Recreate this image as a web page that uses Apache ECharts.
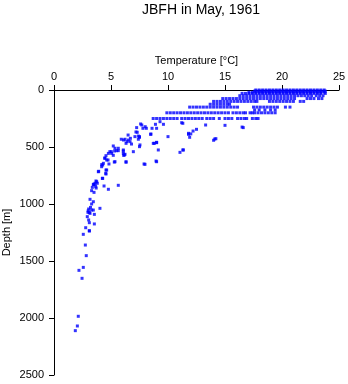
<!DOCTYPE html>
<html>
<head>
<meta charset="utf-8">
<script src="https://cdn.jsdelivr.net/npm/echarts@6/dist/echarts.min.js"></script>
<style>html,body{margin:0;padding:0;background:#fff}#c{width:348px;height:384px}</style>
</head>
<body>
<div id="c"></div>
<script>
// Temperatures (°C) observed at standard depths (m)
const band0 = [17.7,18.0,18.3,18.6,18.9,19.2,19.5,19.8,20.1,20.4,20.7,21.0,21.3,21.6,21.9,22.2,22.5,22.8,23.1,23.4,23.7];
const band10 = [17.6,17.9,18.2,18.5,18.8,19.1,19.4,19.7,20.0,20.3,20.6,20.9,21.2,21.5,21.8,22.1,22.4,22.7,23.0,23.3,23.6,23.8];
const band20 = [17.1,17.4,17.7,18.0,18.3,18.6,18.9,19.2,19.5,19.8,20.1,20.4,20.7,21.0,21.3,21.6,21.9,22.2,22.5,22.8,23.1,23.4,23.7];
const band30 = [16.5,16.8,17.1,17.4,17.7,18.0,18.3,18.6,18.9,19.2,19.5,19.8,20.1,20.4,20.7,21.0,21.3,21.6,21.9,22.2,22.5,22.8,23.1,23.4,23.8];
const band50 = [16.3,16.6,16.9,17.2,17.5,17.8,18.1,18.4,18.7,19.0,19.3,19.6,19.9,20.2,20.5,20.8,21.1,21.4,21.7,22.0,22.3,22.6,23.0,23.3,23.6];
const band75 = [14.8,15.1,15.4,15.7,16.0,16.3,16.6,16.9,17.2,17.5,17.8,18.1,18.4,18.7,19.0,19.3,19.6,19.9,20.2,20.5,20.8,21.1,22.2,22.5,22.8,23.2,23.5];
const band100 = [14.0,14.3,14.6,14.9,15.2,15.5,15.8,16.1,16.4,16.7,17.0,17.3,17.6,17.8,18.9,19.2,19.5,19.8,20.1,20.4,20.7,21.0,21.6,21.9];
const band125 = [13.7,14.0,14.3,14.6,14.9,15.2,15.4];
const band150 = [11.9,12.2,12.5,12.8,13.1,13.4,13.7,14.0,14.3,14.6,14.9,15.2,15.5,15.8,16.1,17.5,17.8,18.1,18.4,18.7,19.0,19.3,19.6,20.3,20.7];
const band175 = [17.6,18.0,18.5,19.0,19.4];
const band200 = [9.9,10.2,10.5,10.8,11.1,11.4,11.7,12.0,12.3,12.6,12.9,13.2,13.5,13.8,14.1,14.4,14.7,15.0,15.3,15.7,16.0,16.3,16.6,16.8,17.2,17.4,17.6,17.9,18.2,18.5,18.8,19.1,19.4];
const band250 = [8.7,9.0,9.3,9.6,9.9,10.2,10.5,10.8,11.2,11.5,11.8,12.1,12.4,12.7,13.0,13.4,13.7,14.0,14.5,15.0,15.3,15.6,16.1,16.4,16.7,16.9,17.4,17.7,17.9];
const bandDepths = [0,10,20,30,50,75,100,125,150,175,200,250];
const bands = [band0,band10,band20,band30,band50,band75,band100,band125,band150,band175,band200,band250];

// Individual observations [temperature, depth]
const profilePoints = [
  [11.3,292],[11.2,287],[13.3,307],[15.0,310],[16.5,325],[16.6,330],[12.2,360],[12.5,345],
  [11.8,380],[11.9,415],[12.0,385],[14.1,430],[14.0,441],[14.2,427],[11.05,547],[11.35,526],
  [10.0,409],[9.15,526],[8.95,623],[9.0,462],[8.8,468],[8.5,386],[7.6,298],[7.8,336],
  [8.1,336],[7.25,330],[7.3,371],[7.1,409],[7.5,409],[7.4,432],[6.5,395],[6.7,424],
  [6.4,453],[5.9,432],[6.1,439],[6.8,474],[7.5,497],[6.96,541],[5.2,491],[5.35,511],
  [5.5,532],[4.9,541],[5.06,556],[5.64,511],[6.08,556],[6.17,570],[6.32,629],[7.98,652],
  [4.47,599],[4.62,614],[4.27,658],[4.18,673],[4.62,702],[3.89,717],[4.56,737],[4.24,775],
  [3.74,804],[3.6,818],[3.5,827],[3.8,818],[3.65,845],[3.36,854],[3.3,883],[3.51,898],
  [4.39,842],[4.77,871],[5.64,836],[3.16,959],[3.45,980],[3.3,1000],[3.04,1044],[3.45,1053],
  [4.03,1038],[2.98,1073],[3.16,1082],[3.54,1091],[2.92,1111],[3.04,1140],[3.1,1164],[3.54,1175],
  [2.78,1208],[3.1,1234],[2.57,1266],[3.1,1237],[2.75,1360],[2.83,1453],[2.57,1556],[2.19,1582],
  [2.46,1652],[2.13,1985],[2.05,2070],[1.87,2111],
  [4.77,556],[5.03,541],[5.32,535],[5.64,532],[6.08,535],[5.2,573],[6.11,573],[4.45,597],
  [4.74,614],[5.29,632],[6.32,634],[4.18,655],[4.82,649],[4.56,702],[3.92,713],[4.54,731],
  [4.27,775],[3.68,798],[3.51,827],[9.3,278],[8.6,336],[9.0,336],[8.9,301],[9.6,301],
  [7.7,307],[8.0,322],[7.19,368],[8.48,389],[11.8,389],[7.4,404],[7.5,415],[6.23,432],
  [6.52,439],[6.67,453],[6.32,468],[7.54,482],[8.71,468],[9.0,459],[6.08,526],[6.23,564],
  [11.3,526],[4.56,576],[5.35,629],[7.9,649],[9.0,629],[4.33,643],[3.45,830],[3.7,860],
  [3.2,1030],[3.0,1060],[3.1,1075],[3.3,1053]
];

const data = [];
bands.forEach((temps, i) => temps.forEach(t => data.push([t, bandDepths[i]])));
profilePoints.forEach(p => data.push(p));

const chart = echarts.init(document.getElementById('c'), null, {renderer: 'canvas'});
const font = 'Liberation Sans, Arial, Helvetica, sans-serif';
chart.setOption({
  animation: false,
  backgroundColor: '#fff',
  title: {
    text: 'JBFH in May, 1961',
    left: 196, top: -2, textAlign: 'center',
    textStyle: {fontSize: 14, fontWeight: 'normal', color: '#000', fontFamily: font}
  },
  grid: {left: 54, right: 9, top: 90, bottom: 9, containLabel: false, outerBoundsMode: 'none'},
  xAxis: {
    type: 'value', position: 'top', min: 0, max: 25, interval: 5,
    name: 'Temperature [°C]', nameLocation: 'middle', nameGap: 24, nameMoveOverlap: false,
    nameTextStyle: {fontSize: 11, color: '#000', fontFamily: font},
    axisLine: {show: true, lineStyle: {color: '#000', width: 1}},
    axisTick: {show: true, length: 5, lineStyle: {color: '#000'}},
    axisLabel: {fontSize: 11, color: '#000', fontFamily: font, margin: 8},
    splitLine: {show: false}
  },
  yAxis: {
    type: 'value', inverse: true, min: 0, max: 2500, interval: 500,
    name: 'Depth [m]', nameLocation: 'middle', nameGap: 42, nameMoveOverlap: false,
    nameTextStyle: {fontSize: 11, color: '#000', fontFamily: font},
    axisLine: {show: true, lineStyle: {color: '#000', width: 1}},
    axisTick: {show: true, length: 5, lineStyle: {color: '#000'}},
    axisLabel: {fontSize: 11, color: '#000', fontFamily: font, margin: 10, formatter: v => String(v)},
    splitLine: {show: false}
  },
  series: [{
    type: 'scatter', data: data, symbol: 'rect', symbolSize: 3,
    clip: false, silent: true,
    itemStyle: {color: '#0000ff'}
  }]
});
</script>
</body>
</html>
